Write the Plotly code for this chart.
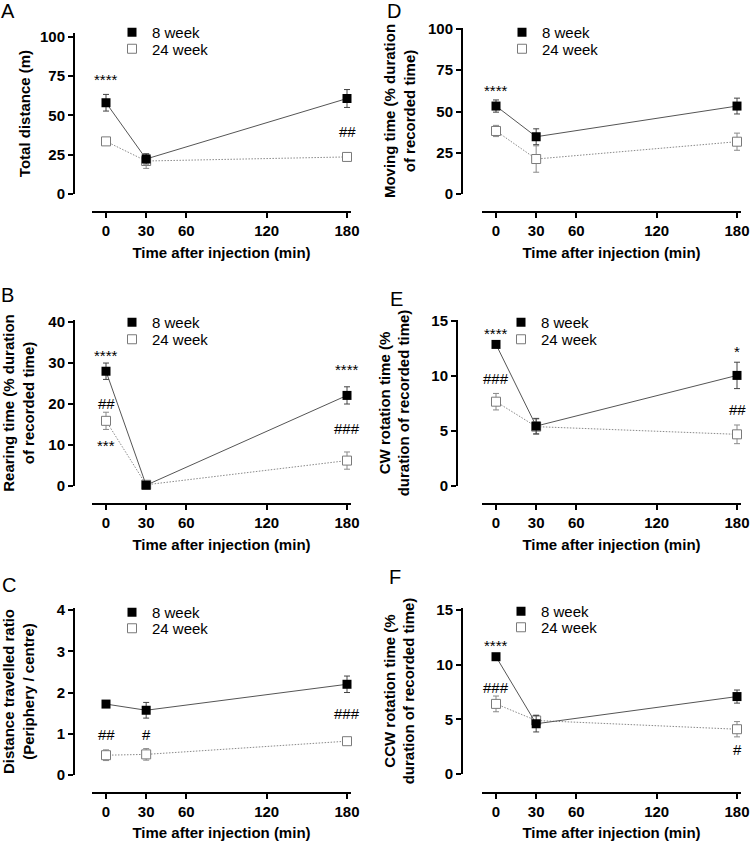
import plotly.graph_objects as go

FONT = "Liberation Sans, Arial, sans-serif"
W, H = 750, 841

# ---------------- data ----------------
time_min = [0, 30, 180]
x_tick_vals = [0, 30, 60, 120, 180]
series_names = ["8 week", "24 week"]

# A: Total distance (m)
dist_8 = [58.1, 22.3, 60.8]
dist_8_err = [5.3, 3.2, 5.7]
dist_24 = [33.5, 21.0, 23.6]
dist_24_err = [1.5, 4.7, 2.5]

# D: Moving time (% duration of recorded time)
moving_8 = [53.3, 34.7, 53.3]
moving_8_err = [3.7, 4.8, 4.8]
moving_24 = [38.2, 21.2, 31.7]
moving_24_err = [3.4, 8.0, 5.2]

# B: Rearing time (% duration of recorded time)
rearing_8 = [28.0, 0.2, 22.1]
rearing_8_err = [2.0, 0.3, 2.1]
rearing_24 = [15.9, 0.3, 6.2]
rearing_24_err = [2.1, 0.5, 2.1]

# E: CW rotation time (% duration of recorded time)
cw_8 = [12.88, 5.45, 10.06]
cw_8_err = [0.15, 0.7, 1.2]
cw_24 = [7.67, 5.4, 4.7]
cw_24_err = [0.75, 0.7, 0.85]

# C: Distance travelled ratio (Periphery / centre)
ratio_8 = [1.72, 1.57, 2.2]
ratio_8_err = [0.05, 0.19, 0.2]
ratio_24 = [0.48, 0.5, 0.82]
ratio_24_err = [0.13, 0.14, 0.05]

# F: CCW rotation time (% duration of recorded time)
ccw_8 = [10.74, 4.6, 7.09]
ccw_8_err = [0.15, 0.75, 0.6]
ccw_24 = [6.42, 4.9, 4.1]
ccw_24_err = [0.72, 0.5, 0.7]

# significance marks: (time, value, text)
marks_A = [(0, 73, "****"), (180, 39.6, "##")]
marks_D = [(0, 63, "****")]
marks_B = [(0, 31.9, "****"), (0, 20.1, "##"), (0, 10.0, "***"), (180, 28.4, "****"), (180, 14.0, "###")]
marks_E = [(0, 13.9, "****"), (0, 9.8, "###"), (180, 12.2, "*"), (180, 7.0, "##")]
marks_C = [(0, 0.99, "##"), (30, 0.99, "#"), (180, 1.5, "###")]
marks_F = [(0, 11.8, "****"), (0, 7.94, "###"), (180, 2.28, "#")]

y_ticks_A = [0, 25, 50, 75, 100]
y_ticks_D = [0, 25, 50, 75, 100]
y_ticks_B = [0, 10, 20, 30, 40]
y_ticks_E = [0, 5, 10, 15]
y_ticks_C = [0, 1, 2, 3, 4]
y_ticks_F = [0, 5, 10, 15]

# ---------------- layout geometry (pixels) ----------------
def fx(px):
    return px / W

def fy(py):
    return 1 - py / H

panels = [
    dict(letter="A", s8=dist_8, e8=dist_8_err, s24=dist_24, e24=dist_24_err, marks=marks_A,
         yt=y_ticks_A, ytitle="Total distance (m)", yr=[0, 102.5],
         xdom=(92, 351), ydom=(33, 194), ypos=74, xpos=212, lpos=(132, 32, 48.5),
         letter_xy=(8, 0), ystand=5),
    dict(letter="D", s8=moving_8, e8=moving_8_err, s24=moving_24, e24=moving_24_err, marks=marks_D,
         yt=y_ticks_D, ytitle="Moving time (% duration<br>of recorded time)", yr=[0, 100.6],
         xdom=(482, 741), ydom=(28, 194), ypos=462, xpos=212, lpos=(522, 32, 48.5),
         letter_xy=(394, 0), ystand=8),
    dict(letter="B", s8=rearing_8, e8=rearing_8_err, s24=rearing_24, e24=rearing_24_err, marks=marks_B,
         yt=y_ticks_B, ytitle="Rearing time (% duration<br>of recorded time)", yr=[0, 40.5],
         xdom=(92, 351), ydom=(320, 486), ypos=74, xpos=504, lpos=(132, 322, 339),
         letter_xy=(7, 284), ystand=12),
    dict(letter="E", s8=cw_8, e8=cw_8_err, s24=cw_24, e24=cw_24_err, marks=marks_E,
         yt=y_ticks_E, ytitle="CW rotation time (%<br>duration of recorded time)", yr=[0, 15.1],
         xdom=(482, 741), ydom=(320, 486), ypos=457, xpos=504, lpos=(521, 322, 339),
         letter_xy=(396, 288), ystand=17),
    dict(letter="C", s8=ratio_8, e8=ratio_8_err, s24=ratio_24, e24=ratio_24_err, marks=marks_C,
         yt=y_ticks_C, ytitle="Distance travelled ratio<br>(Periphery / centre)", yr=[0, 4.05],
         xdom=(92, 351), ydom=(608, 775), ypos=74, xpos=793, lpos=(132, 612, 628),
         letter_xy=(9, 574), ystand=19),
    dict(letter="F", s8=ccw_8, e8=ccw_8_err, s24=ccw_24, e24=ccw_24_err, marks=marks_F,
         yt=y_ticks_F, ytitle="CCW rotation time (%<br>duration of recorded time)", yr=[0, 15.2],
         xdom=(482, 741), ydom=(608, 774), ypos=462, xpos=793, lpos=(521, 611, 627),
         letter_xy=(395, 566), ystand=17),
]

fig = go.Figure()
layout = dict(
    template="none",
    width=W, height=H,
    margin=dict(l=0, r=0, t=0, b=0, pad=0, autoexpand=False),
    paper_bgcolor="white", plot_bgcolor="white",
    font=dict(family=FONT, size=15, color="black"),
    showlegend=True,
    hovermode=False,
)
annotations = []

tick_font = dict(family=FONT, size=15, color="black", weight="bold")
title_font = dict(family=FONT, size=15, color="black", weight="bold")

leg_idx = 1
for i, p in enumerate(panels, start=1):
    xa = "x" if i == 1 else f"x{i}"
    ya = "y" if i == 1 else f"y{i}"
    xkey = "xaxis" if i == 1 else f"xaxis{i}"
    ykey = "yaxis" if i == 1 else f"yaxis{i}"

    layout[xkey] = dict(
        domain=[fx(p["xdom"][0]), fx(p["xdom"][1])],
        range=[-10.46, 182.99],
        anchor="free", position=fy(p["xpos"]), automargin=False,
        tickvals=x_tick_vals, ticktext=[str(v) for v in x_tick_vals],
        ticks="outside", ticklen=5, tickwidth=1.5, tickcolor="black",
        showline=True, linewidth=2, linecolor="black",
        showgrid=False, zeroline=False,
        tickfont=tick_font,
        title=dict(text="Time after injection (min)", font=title_font, standoff=8),
        fixedrange=True,
    )
    layout[ykey] = dict(
        domain=[fy(p["ydom"][1]), fy(p["ydom"][0])],
        range=p["yr"],
        anchor="free", position=fx(p["ypos"]), automargin=False,
        tickvals=p["yt"], ticktext=[str(v) for v in p["yt"]],
        ticks="outside", ticklen=5, tickwidth=1.5, tickcolor="black",
        showline=True, linewidth=2, linecolor="black",
        showgrid=False, zeroline=False,
        tickfont=tick_font,
        title=dict(text=p["ytitle"], font=title_font, standoff=p["ystand"]),
        fixedrange=True,
    )

    fig.add_trace(go.Scatter(x=time_min, y=p["s24"], mode="lines", xaxis=xa, yaxis=ya,
                             line=dict(color="#8a8a8a", width=1, dash="1.5px,1.5px"),
                             showlegend=False, hoverinfo="skip", cliponaxis=False))
    lg24 = "legend" if leg_idx == 1 else f"legend{leg_idx}"
    lg8 = f"legend{leg_idx + 1}"
    fig.add_trace(go.Scatter(x=time_min, y=p["s24"], mode="markers", xaxis=xa, yaxis=ya,
                             name=series_names[1], legend=lg24, showlegend=True,
                             marker=dict(symbol="square", size=9, color="white",
                                         line=dict(color="#7a7a7a", width=1)),
                             error_y=dict(type="data", array=p["e24"], color="#8a8a8a",
                                          thickness=1, width=3),
                             cliponaxis=False))
    fig.add_trace(go.Scatter(x=time_min, y=p["s8"], mode="lines", xaxis=xa, yaxis=ya,
                             line=dict(color="#555555", width=1),
                             showlegend=False, hoverinfo="skip", cliponaxis=False))
    fig.add_trace(go.Scatter(x=time_min, y=p["s8"], mode="markers", xaxis=xa, yaxis=ya,
                             name=series_names[0], legend=lg8, showlegend=True,
                             marker=dict(symbol="square", size=9, color="black",
                                         line=dict(color="black", width=0)),
                             error_y=dict(type="data", array=p["e8"], color="#444444",
                                          thickness=1, width=3),
                             cliponaxis=False))

    mx, y8, y24 = p["lpos"]
    for key, yc in ((lg8, y8), (lg24, y24)):
        layout[key] = dict(
            x=fx(mx - 20), y=fy(yc - 16), xanchor="left", yanchor="top",
            bgcolor="rgba(0,0,0,0)", borderwidth=0,
            font=dict(family=FONT, size=15, color="black"),
        )
    leg_idx += 2

    for (tx, ty, txt) in p["marks"]:
        annotations.append(dict(x=tx, y=ty, xref=xa, yref=ya, text=txt, showarrow=False,
                                font=dict(family=FONT, size=15, color="black"),
                                xanchor="center", yanchor="middle"))

    lx, ly = p["letter_xy"]
    annotations.append(dict(x=fx(lx), y=fy(ly), xref="paper", yref="paper", text=p["letter"],
                            showarrow=False, font=dict(family=FONT, size=20, color="black"),
                            xanchor="center", yanchor="top", borderpad=0, borderwidth=0))

layout["annotations"] = annotations
fig.update_layout(**layout)
fig.write_html("out.html", config={"displayModeBar": False, "responsive": False},
               post_script="document.body.style.margin='0';")
